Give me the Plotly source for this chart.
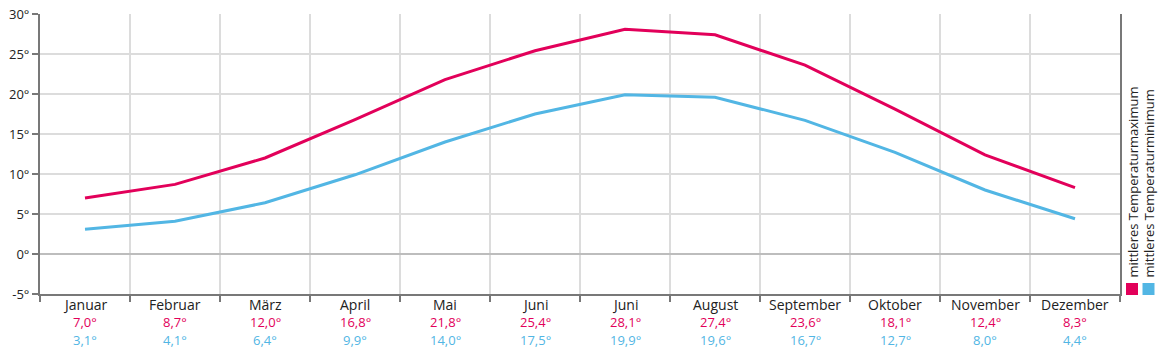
import plotly.graph_objects as go

months = ["Januar", "Februar", "März", "April", "Mai", "Juni",
          "Juni", "August", "September", "Oktober", "November", "Dezember"]
temp_max = [7.0, 8.7, 12.0, 16.8, 21.8, 25.4, 28.1, 27.4, 23.6, 18.1, 12.4, 8.3]
temp_min = [3.1, 4.1, 6.4, 9.9, 14.0, 17.5, 19.9, 19.6, 16.7, 12.7, 8.0, 4.4]
series_names = ["mittleres Temperaturmaximum", "mittleres Temperaturminimum"]
y_ticks = [-5, 0, 5, 10, 15, 20, 25, 30]

RED = "#e2005a"
BLUE = "#52b6e4"
AXIS = "#787878"
GRID = "#dcdcdc"
TEXT = "#222222"
FONT = "Open Sans"

W, H = 1160, 350
ML, MR, MT, MB = 40, 40, 14, 56
PW, PH = W - ML - MR, H - MT - MB

x = list(range(len(months)))


def fmt(v):
    return f"{v:.1f}".replace(".", ",") + "°"


def px_x(p):
    return (p - ML) / PW


def px_y(p):
    return (H - MB - p) / PH


fig = go.Figure()
fig.add_trace(go.Scatter(x=x, y=temp_max, mode="lines", name=series_names[0],
                         line=dict(color=RED, width=3), hoverinfo="skip"))
fig.add_trace(go.Scatter(x=x, y=temp_min, mode="lines", name=series_names[1],
                         line=dict(color=BLUE, width=3), hoverinfo="skip"))

fig.update_layout(
    width=W, height=H,
    margin=dict(l=ML, r=MR, t=MT, b=MB),
    paper_bgcolor="white", plot_bgcolor="white",
    showlegend=False,
    font=dict(family=FONT, size=13, color=TEXT),
)

fig.update_xaxes(
    range=[-0.5, len(months) - 0.5], automargin=False,
    tickmode="array", tickvals=x, showticklabels=False,
    ticks="", showgrid=False, zeroline=False,
    showline=True, linecolor=AXIS, linewidth=2,
    minor=dict(tickmode="linear", tick0=-0.5, dtick=1, ticks="outside",
               ticklen=6, tickwidth=2, tickcolor=AXIS,
               showgrid=True, gridcolor=GRID, gridwidth=2),
)

fig.update_yaxes(
    range=[-5, 30], automargin=False,
    tickmode="array", tickvals=y_ticks,
    ticktext=[f"{v}°" for v in y_ticks],
    ticks="outside", ticklen=6, tickwidth=2, tickcolor=AXIS,
    showline=True, linecolor=AXIS, linewidth=2, mirror=True,
    showgrid=True, gridcolor=GRID, gridwidth=2,
    zeroline=True, zerolinecolor="#bdbdbd", zerolinewidth=2,
    tickfont=dict(family=FONT, size=13, color=TEXT),
)

# Category labels with the monthly max / min values underneath
for xi, m, a, b in zip(x, months, temp_max, temp_min):
    for text, col, size, ypx in [(m, TEXT, 14, 304), (fmt(a), RED, 13, 322),
                                 (fmt(b), BLUE, 13, 340)]:
        fig.add_annotation(xref="x", yref="paper", x=xi, y=px_y(ypx),
                           text=text, showarrow=False,
                           xanchor="center", yanchor="middle",
                           font=dict(family=FONT, size=size, color=col))

# Vertical legend on the right: colour squares with rotated labels
for i, (name, col) in enumerate(zip(series_names, [RED, BLUE])):
    cx = 1132 + i * 16.5
    fig.add_shape(type="rect", xref="paper", yref="paper",
                  x0=px_x(cx - 6), x1=px_x(cx + 6),
                  y0=px_y(295), y1=px_y(283),
                  fillcolor=col, line=dict(width=0), layer="above")
    fig.add_annotation(xref="paper", yref="paper",
                       x=px_x(cx), y=px_y(280),
                       text=name, textangle=-90, showarrow=False,
                       xanchor="center", yanchor="bottom",
                       font=dict(family=FONT, size=13, color=TEXT))

fig.write_html("out.html")
